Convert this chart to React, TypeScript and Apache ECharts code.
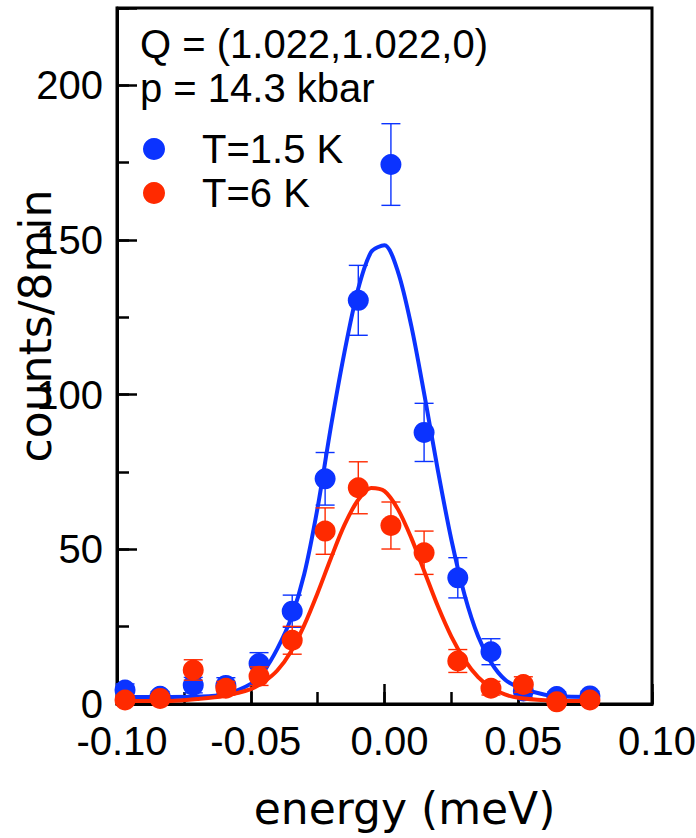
import React, { useEffect, useRef } from "react";
import * as echarts from "echarts";

// ---- data ----
const energy = [-0.097, -0.0839, -0.0715, -0.0593, -0.0469, -0.0345, -0.0222, -0.0098, 0.0024, 0.0148, 0.0274, 0.0398, 0.0519, 0.0644, 0.0768];
const countsLow = [4.5, 2.5, 6.1, 6.0, 13.1, 30.0, 72.8, 130.5, 174.4, 87.8, 40.8, 16.9, 4.2, 2.4, 2.6];
const errLow = [2.0, 1.5, 2.5, 2.5, 3.5, 5.2, 8.5, 11.3, 13.2, 9.4, 6.5, 4.2, 2.0, 1.5, 1.5];
const countsHigh = [1.3, 1.8, 11.0, 5.1, 9.0, 20.6, 55.9, 69.9, 57.7, 48.9, 13.9, 5.1, 6.3, 0.7, 1.3];
const errHigh = [1.2, 1.2, 3.3, 2.2, 3.0, 4.5, 7.5, 8.4, 7.6, 7.0, 3.7, 2.2, 2.5, 0.7, 1.2];

const fitEnergy = [-0.10, -0.09, -0.08, -0.07, -0.06, -0.05, -0.045, -0.04, -0.035, -0.03, -0.025, -0.02, -0.015, -0.01, -0.005, 0, 0.005, 0.01, 0.015, 0.02, 0.025, 0.03, 0.035, 0.04, 0.045, 0.05, 0.06, 0.07, 0.08];
const fitLow = [2.3, 2.3, 2.3, 2.4, 3.1, 6.5, 10.8, 18.0, 27.5, 42.0, 63.5, 89.8, 113.6, 133.7, 146.1, 148.3, 139.8, 122.3, 99.5, 75.3, 53.1, 35.1, 21.9, 13.2, 7.9, 5.5, 3.0, 2.35, 2.3];
const fitHigh = [1.0, 1.0, 1.0, 1.6, 2.6, 4.8, 7.2, 10.9, 16.9, 25.5, 35.9, 47.2, 57.8, 65.8, 69.8, 68.8, 63.0, 53.7, 42.6, 31.5, 21.8, 14.2, 8.7, 5.2, 3.1, 2.0, 1.2, 1.0, 1.0];

const seriesNames = ["T=1.5 K", "T=6 K"];
const annotations = ["Q = (1.022,1.022,0)", "p = 14.3 kbar"];
const xTitle = "energy (meV)";
const yTitle = "counts/8min";

const BLUE = "#0b33ff";
const RED = "#ff2a00";
const FONT = '"Liberation Sans", Arial, sans-serif';
const TITLE_FONT = '"DejaVu Sans", sans-serif';

function errorBars(color: string, xs: number[], ys: number[], es: number[], z: number) {
  return {
    type: "custom",
    z,
    silent: true,
    data: xs.map((x, i) => [x, ys[i], es[i]]),
    encode: { x: 0, y: 1 },
    renderItem: (_p: any, api: any) => {
      const x = api.value(0);
      const y = api.value(1);
      const e = api.value(2);
      const t = api.coord([x, y + e]);
      const b = api.coord([x, y - e]);
      const hw = 9.5;
      const st = { stroke: color, lineWidth: 1.4 };
      return {
        type: "group",
        children: [
          { type: "line", shape: { x1: t[0], y1: t[1], x2: b[0], y2: b[1] }, style: st },
          { type: "line", shape: { x1: t[0] - hw, y1: t[1], x2: t[0] + hw, y2: t[1] }, style: st },
          { type: "line", shape: { x1: b[0] - hw, y1: b[1], x2: b[0] + hw, y2: b[1] }, style: st },
        ],
      };
    },
  };
}

export default function App() {
  const ref = useRef<HTMLDivElement>(null);
  useEffect(() => {
    if (!ref.current) return;
    const chart = echarts.init(ref.current, null, { renderer: "svg" });
    const axisLine = { show: true, onZero: false, lineStyle: { color: "#000", width: 3 } };
    chart.setOption({
      animation: false,
      backgroundColor: "#fff",
      grid: {
        left: 117, right: 44, top: 8, bottom: 134, show: true, borderColor: "#000", borderWidth: 3,
        containLabel: false, outerBoundsMode: "none",
      },
      xAxis: [
        {
          type: "value", min: -0.1, max: 0.1, interval: 0.05, position: "bottom",
          axisLine,
          axisTick: { show: true, inside: true, length: 20, lineStyle: { color: "#000", width: 2.5 } },
          axisLabel: {
            show: true, color: "#000", fontSize: 40, lineHeight: 32, fontFamily: FONT, margin: 21,
            padding: [0, 0, 0, 10],
            formatter: (v: number) => v.toFixed(2),
          },
          splitLine: { show: false },
          name: xTitle, nameLocation: "middle", nameGap: 82, nameMoveOverlap: false,
          nameTextStyle: { color: "#000", fontSize: 44, fontFamily: TITLE_FONT, padding: [0, 0, 0, 40] },
        },
        {
          type: "value", min: -0.1, max: 0.1, interval: 0.025, position: "bottom",
          axisLine: { show: false, onZero: false },
          axisTick: { show: true, inside: true, length: 12, lineStyle: { color: "#000", width: 2.5 } },
          axisLabel: { show: false },
          splitLine: { show: false },
        },
      ],
      yAxis: [
        {
          type: "value", min: 0, max: 225, interval: 50, position: "left",
          axisLine,
          axisTick: { show: true, inside: true, length: 20, lineStyle: { color: "#000", width: 2.5 } },
          axisLabel: {
            show: true, color: "#000", fontSize: 40, lineHeight: 32, fontFamily: FONT, margin: 14,
            formatter: (v: number) => (v % 50 === 0 ? String(v) : ""),
          },
          splitLine: { show: false },
          name: yTitle, nameLocation: "middle", nameGap: 60, nameMoveOverlap: false,
          nameTextStyle: { color: "#000", fontSize: 44, fontFamily: TITLE_FONT, padding: [0, 0, 0, 60] },
        },
        {
          type: "value", min: 0, max: 225, interval: 25, position: "left",
          axisLine: { show: false, onZero: false },
          axisTick: { show: true, inside: true, length: 12, lineStyle: { color: "#000", width: 2.5 } },
          axisLabel: { show: false },
          splitLine: { show: false },
        },
      ],
      legend: {
        orient: "vertical", left: 138, top: 124, itemWidth: 22, itemHeight: 22, itemGap: 4,
        icon: "circle", data: seriesNames,
        textStyle: { color: "#000", fontSize: 40, fontFamily: FONT, padding: [0, 0, 0, 32] },
      },
      graphic: annotations.map((t, i) => ({
        type: "text", left: 140, top: 24 + i * 43.5,
        style: { text: t, fill: "#000", fontSize: 40, fontFamily: FONT },
        silent: true,
      })),
      series: [
        errorBars(BLUE, energy, countsLow, errLow, 2),
        {
          type: "line", name: "fitLow", z: 3, smooth: 0.3, showSymbol: false, silent: true,
          data: fitEnergy.map((x, i) => [x, fitLow[i]]),
          lineStyle: { color: BLUE, width: 4 },
        },
        {
          type: "scatter", name: seriesNames[0], z: 4, symbol: "circle", symbolSize: 21,
          data: energy.map((x, i) => [x, countsLow[i]]),
          itemStyle: { color: BLUE, opacity: 1 },
        },
        errorBars(RED, energy, countsHigh, errHigh, 5),
        {
          type: "line", name: "fitHigh", z: 6, smooth: 0.3, showSymbol: false, silent: true,
          data: fitEnergy.map((x, i) => [x, fitHigh[i]]),
          lineStyle: { color: RED, width: 4 },
        },
        {
          type: "scatter", name: seriesNames[1], z: 7, symbol: "circle", symbolSize: 21,
          data: energy.map((x, i) => [x, countsHigh[i]]),
          itemStyle: { color: RED, opacity: 1 },
        },
      ],
    });
    return () => chart.dispose();
  }, []);
  return <div ref={ref} style={{ position: "absolute", left: 0, top: 0, width: 696, height: 838 }} />;
}
